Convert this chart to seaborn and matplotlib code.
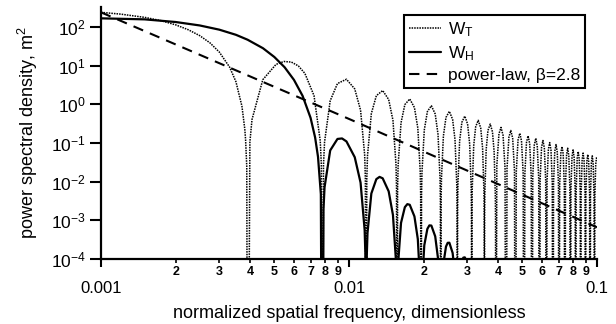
import matplotlib
matplotlib.use("Agg")
import matplotlib.pyplot as plt
import pandas as pd
import seaborn as sns

# ---------------- data ----------------
# W_T : tophat-window spectrum (dotted)
wt_freq = [
    0.001, 0.0012, 0.0015, 0.00175, 0.002, 0.00225, 0.0025, 0.00275, 0.003, 0.0033,
    0.0035, 0.0037, 0.0038, 0.003828, 0.00387, 0.003906,
    0.003984, 0.004063, 0.004492, 0.005078, 0.005469, 0.005859, 0.00625, 0.00664, 0.007227, 0.007656, 0.007735, 0.007813,
    0.007891, 0.007969, 0.008398, 0.008984, 0.009766, 0.010547, 0.011133, 0.011563, 0.011641, 0.011719,
    0.011797, 0.011875, 0.012305, 0.012891, 0.013672, 0.014453, 0.015039, 0.015469, 0.015547, 0.015625,
    0.015703, 0.015781, 0.016211, 0.016797, 0.017578, 0.018359, 0.018945, 0.019375, 0.019453, 0.019531,
    0.019609, 0.019688, 0.020117, 0.020703, 0.021484, 0.022266, 0.022852, 0.023281, 0.02336, 0.023438,
    0.023516, 0.023594, 0.024023, 0.024609, 0.025391, 0.026172, 0.026758, 0.027188, 0.027266, 0.027344,
    0.027422, 0.0275, 0.02793, 0.028516, 0.029297, 0.030078, 0.030664, 0.031094, 0.031172, 0.03125,
    0.031328, 0.031406, 0.031836, 0.032422, 0.033203, 0.033984, 0.03457, 0.035, 0.035078, 0.035156,
    0.035234, 0.035313, 0.035742, 0.036328, 0.037109, 0.037891, 0.038477, 0.038906, 0.038985, 0.039063,
    0.039453, 0.040234, 0.041016, 0.041797, 0.042578, 0.042969,
    0.043359, 0.044141, 0.044922, 0.045703, 0.046484, 0.046875,
    0.047266, 0.048047, 0.048828, 0.049609, 0.050391, 0.050781,
    0.051172, 0.051953, 0.052734, 0.053516, 0.054297, 0.054688,
    0.055078, 0.055859, 0.056641, 0.057422, 0.058203, 0.058594,
    0.058984, 0.059766, 0.060547, 0.061328, 0.062109, 0.0625,
    0.062891, 0.063672, 0.064453, 0.065234, 0.066016, 0.066406,
    0.066797, 0.067578, 0.068359, 0.069141, 0.069922, 0.070313,
    0.070703, 0.071484, 0.072266, 0.073047, 0.073828, 0.074219,
    0.074609, 0.075391, 0.076172, 0.076953, 0.077734, 0.078125,
    0.078516, 0.079297, 0.080078, 0.080859, 0.081641, 0.082031,
    0.082422, 0.083203, 0.083984, 0.084766, 0.085547, 0.085938,
    0.086328, 0.087109, 0.087891, 0.088672, 0.089453, 0.089844,
    0.090234, 0.091016, 0.091797, 0.092578, 0.093359, 0.09375,
    0.094141, 0.094922, 0.095703, 0.096484, 0.097266, 0.097656,
    0.098047, 0.098828, 0.099609, 0.1,
]
wt_psd = [
    240, 216, 178, 146, 114, 85, 60, 39, 22.5, 9.2,
    3.85, 0.9, 0.23, 0.123, 0.025, 1e-12,
    0.1057, 0.405, 4.35, 10.81, 12.87, 12.4, 9.86, 6.32, 1.68, 0.114, 0.02806, 1e-12,
    0.02696, 0.1053, 1.243, 3.455, 4.464, 2.507, 0.7076, 0.05, 0.01239, 1e-12,
    0.01206, 0.0474, 0.579, 1.678, 2.278, 1.335, 0.388, 0.0279, 0.00694, 1e-12,
    0.0068, 0.0268, 0.3337, 0.988, 1.378, 0.827, 0.2443, 0.0178, 0.00444, 1e-12,
    0.00437, 0.01724, 0.2167, 0.6504, 0.9223, 0.5623, 0.1679, 0.01233, 0.00308, 1e-12,
    0.00304, 0.012, 0.152, 0.4603, 0.6604, 0.407, 0.1225, 0.00904, 0.00226, 1e-12,
    0.00223, 0.00884, 0.1124, 0.3428, 0.496, 0.3081, 0.0933, 0.00691, 0.00173, 1e-12,
    0.00171, 0.00678, 0.0865, 0.2652, 0.3862, 0.2414, 0.0734, 0.00546, 0.00136, 1e-12,
    0.00135, 0.00536, 0.0686, 0.2112, 0.3091, 0.1942, 0.0592, 0.00442, 0.0011, 1e-12,
    0.0261, 0.1722, 0.2531, 0.1596, 0.02242, 1e-12,
    0.02162, 0.1431, 0.211, 0.1335, 0.01881, 1e-12,
    0.0182, 0.1208, 0.1786, 0.1133, 0.01601, 1e-12,
    0.01552, 0.1033, 0.1531, 0.0973, 0.01379, 1e-12,
    0.0134, 0.0893, 0.1327, 0.0845, 0.012, 1e-12,
    0.01168, 0.078, 0.1161, 0.0741, 0.01054, 1e-12,
    0.01028, 0.0688, 0.1025, 0.0655, 0.00933, 1e-12,
    0.00911, 0.061, 0.0911, 0.0583, 0.00831, 1e-12,
    0.00813, 0.0546, 0.0815, 0.0522, 0.00746, 1e-12,
    0.0073, 0.049, 0.0734, 0.0471, 0.00673, 1e-12,
    0.00659, 0.0443, 0.0664, 0.0426, 0.0061, 1e-12,
    0.00598, 0.0403, 0.0604, 0.0388, 0.00555, 1e-12,
    0.00545, 0.0367, 0.0551, 0.0355, 0.00508, 1e-12,
    0.00499, 0.0337, 0.0505, 0.0325, 0.00466, 1e-12,
    0.00459, 0.0309, 0.0465, 0.0299, 0.0043, 1e-12,
    0.00423, 0.0285, 0.0429, 0.0385,
]

# W_H : Hann-window spectrum (solid)
wh_freq = [
    0.001, 0.0015, 0.002, 0.0025, 0.003, 0.0035, 0.0039, 0.0045, 0.005, 0.0055,
    0.006, 0.0065, 0.007, 0.0073, 0.0075, 0.0077, 0.007813,
    0.007891, 0.007969, 0.008398, 0.008984, 0.009375, 0.009766, 0.010547, 0.011133, 0.011563, 0.011641, 0.011719,
    0.011797, 0.011875, 0.012305, 0.012891, 0.013281, 0.013672, 0.014453, 0.015039, 0.015469, 0.015625,
    0.015781, 0.016211, 0.016797, 0.017188, 0.017578, 0.018359, 0.018945, 0.019375, 0.019531,
    0.019688, 0.020117, 0.020703, 0.021094, 0.021484, 0.022266, 0.022852, 0.023281, 0.023438,
    0.023594, 0.024023, 0.024609, 0.025, 0.025391, 0.026172, 0.026758, 0.027188, 0.027344,
    0.02793, 0.028516, 0.028906, 0.029297, 0.029688, 0.030078, 0.030664, 0.03125,
]
wh_psd = [
    168, 158, 135, 110, 85.5, 63, 47, 28.3, 16.8, 9.12,
    4.29, 1.657, 0.447, 0.14, 0.0439, 0.00477, 1e-12,
    0.00193, 0.00715, 0.0644, 0.1275, 0.1313, 0.11, 0.043, 0.00947, 0.000564, 1.35e-4, 1e-12,
    1.24e-4, 4.74e-4, 0.00494, 0.01165, 0.0133, 0.01222, 0.00563, 0.001379, 8.8e-5, 1e-12,
    7.77e-5, 8.61e-4, 0.002194, 0.002626, 0.002525, 0.001263, 3.27e-4, 2.17e-5, 1e-12,
    1.97e-5, 2.26e-4, 6.02e-4, 7.41e-4, 7.32e-4, 3.85e-4, 1.034e-4, 7e-6, 1e-12,
    6.5e-6, 7.6e-5, 2.09e-4, 2.62e-4, 2.64e-4, 1.435e-4, 3.95e-5, 2.5e-6, 1e-12,
    3.0e-5, 8.52e-5, 1.083e-4, 1.104e-4, 9.2e-5, 6.16e-5, 1.72e-5, 1e-12,
]

# power law, beta = 2.8 (dashed)
pl_freq = [0.001, 0.01, 0.1]
pl_psd = [240, 0.42, 6.6e-4]

series_labels = [r"W$_\mathregular{T}$", r"W$_\mathregular{H}$", "power-law, β=2.8"]

x_major_ticks = [0.001, 0.01, 0.1]
x_major_labels = ["0.001", "0.01", "0.1"]
x_minor_ticks = [0.002, 0.003, 0.004, 0.005, 0.006, 0.007, 0.008, 0.009,
                 0.02, 0.03, 0.04, 0.05, 0.06, 0.07, 0.08, 0.09]
x_minor_labels = ["2", "3", "4", "5", "6", "7", "8", "9",
                  "2", "3", "4", "5", "6", "7", "8", "9"]
y_ticks = [1e-4, 1e-3, 1e-2, 1e-1, 1e0, 1e1, 1e2]
y_tick_labels = [r"$\mathregular{10^{-4}}$", r"$\mathregular{10^{-3}}$",
                 r"$\mathregular{10^{-2}}$", r"$\mathregular{10^{-1}}$",
                 r"$\mathregular{10^{0}}$", r"$\mathregular{10^{1}}$",
                 r"$\mathregular{10^{2}}$"]

# ---------------- styling ----------------
sns.set_theme(style="ticks")
plt.rcParams["font.family"] = ["Liberation Sans", "DejaVu Sans"]
plt.rcParams["mathtext.fontset"] = "custom"
plt.rcParams["mathtext.rm"] = "Liberation Sans"
plt.rcParams["mathtext.it"] = "Liberation Sans:italic"
plt.rcParams["mathtext.bf"] = "Liberation Sans:bold"
plt.rcParams["axes.edgecolor"] = "black"
plt.rcParams["xtick.color"] = "black"
plt.rcParams["ytick.color"] = "black"
plt.rcParams["text.color"] = "black"
plt.rcParams["axes.labelcolor"] = "black"

fig, ax = plt.subplots(figsize=(6.16, 3.24), dpi=100)
fig.subplots_adjust(left=101 / 616, right=597 / 616, bottom=1 - 259 / 324, top=1 - 7 / 324)
ax.set_xscale("log")
ax.set_yscale("log")

df_t = pd.DataFrame({"freq": wt_freq, "psd": wt_psd})
df_h = pd.DataFrame({"freq": wh_freq, "psd": wh_psd})
df_p = pd.DataFrame({"freq": pl_freq, "psd": pl_psd})

sns.lineplot(data=df_t, x="freq", y="psd", ax=ax, color="black", linewidth=1.1,
             linestyle=(0, (1, 0.7)), estimator=None, sort=False, label=series_labels[0])
sns.lineplot(data=df_h, x="freq", y="psd", ax=ax, color="black", linewidth=1.6,
             linestyle="-", estimator=None, sort=False, label=series_labels[1])
sns.lineplot(data=df_p, x="freq", y="psd", ax=ax, color="black", linewidth=1.5,
             linestyle=(0, (5, 3.5)), estimator=None, sort=False, label=series_labels[2])

ax.set_xlim(0.001, 0.1)
ax.set_ylim(1e-4, 330)

ax.set_xticks(x_major_ticks, x_major_labels)
ax.set_xticks(x_minor_ticks, x_minor_labels, minor=True)
ax.set_yticks(y_ticks, y_tick_labels)
ax.set_yticks([], minor=True)

ax.tick_params(axis="y", which="major", length=8, width=1.5, labelsize=12.5, pad=3)
ax.tick_params(axis="x", which="major", length=6, width=1.5, labelsize=12, pad=10)
ax.tick_params(axis="x", which="minor", length=3, width=1.2, labelsize=9, pad=2)
for t in ax.get_xticklabels(minor=True):
    t.set_fontweight("bold")

sns.despine(ax=ax)
for s in ("left", "bottom"):
    ax.spines[s].set_linewidth(1.6)

ax.set_xlabel("normalized spatial frequency, dimensionless", fontsize=13, labelpad=6)
ax.set_ylabel(r"power spectral density, m$^\mathregular{2}$", fontsize=13, labelpad=8)

leg = ax.legend(loc="upper right", bbox_to_anchor=(0.976, 0.968), frameon=True,
                fancybox=False, edgecolor="black", framealpha=1, fontsize=12.5,
                handlelength=1.8, handletextpad=0.4, borderpad=0.3, labelspacing=0.3,
                borderaxespad=0)
leg.get_frame().set_linewidth(1.5)

fig.savefig("out.png", dpi=100)
